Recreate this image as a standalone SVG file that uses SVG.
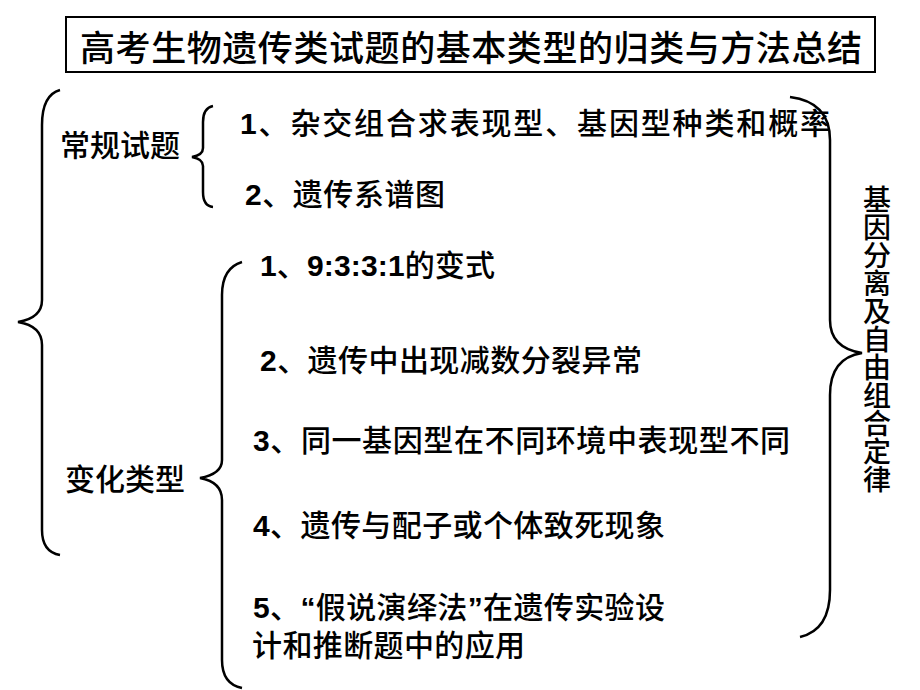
<svg xmlns="http://www.w3.org/2000/svg" width="920" height="690" viewBox="0 0 920 690">
<style>
.t{font-family:"Liberation Sans","Noto Sans CJK SC",sans-serif;fill:#000;font-weight:500}
.b{font-size:30px}
.n{font-weight:bold}
.br{fill:none;stroke:#000;stroke-width:2.5}
</style>
<rect width="920" height="690" fill="#fff"/>
<g id="title">
<rect x="66" y="17" width="809" height="55" fill="#fff" stroke="#000" stroke-width="2"/>
<text class="t" x="80" y="61" font-size="35" textLength="782" lengthAdjust="spacing">高考生物遗传类试题的基本类型的归类与方法总结</text>
</g>
<g id="connectors">
<path class="br" d="M60,90 Q42,95 42,125 L42,300 Q42,318 18,322 Q42,326 42,345 L42,530 Q42,552 60,555"/>
<path class="br" d="M213,106 Q203,108 203,122 L203,148 Q203,155 192,157 Q203,159 203,166 L203,192 Q203,206 213,207"/>
<path class="br" d="M242,262 Q222,268 222,295 L222,460 Q222,474 200,478 Q222,482 222,500 L222,660 Q222,684 242,688"/>
<path class="br" d="M790,97 Q830,102 830,140 L830,320 Q830,348 862,353 Q830,358 830,395 L830,590 Q830,630 800,637"/>
</g>
<g id="regular">
<text class="t b" x="60" y="156" textLength="120" lengthAdjust="spacing">常规试题</text>
</g>
<g id="change">
<text class="t b" x="65" y="490" textLength="120" lengthAdjust="spacing">变化类型</text>
</g>
<g id="r1"><text class="t b" x="240" y="134" textLength="590" lengthAdjust="spacing"><tspan class="n">1</tspan>、杂交组合求表现型、基因型种类和概率</text></g>
<g id="r2"><text class="t b" x="245" y="205" textLength="200" lengthAdjust="spacing"><tspan class="n">2</tspan>、遗传系谱图</text></g>
<g id="v1"><text class="t b" x="260" y="276" textLength="235" lengthAdjust="spacing"><tspan class="n">1</tspan>、<tspan class="n">9:3:3:1</tspan>的变式</text></g>
<g id="v2"><text class="t b" x="260" y="371" textLength="382" lengthAdjust="spacing"><tspan class="n">2</tspan>、遗传中出现减数分裂异常</text></g>
<g id="v3"><text class="t b" x="253" y="451" textLength="537" lengthAdjust="spacing"><tspan class="n">3</tspan>、同一基因型在不同环境中表现型不同</text></g>
<g id="v4"><text class="t b" x="253" y="536" textLength="412" lengthAdjust="spacing"><tspan class="n">4</tspan>、遗传与配子或个体致死现象</text></g>
<g id="v5"><text class="t b" x="253" y="618" textLength="412" lengthAdjust="spacing"><tspan class="n">5</tspan>、<tspan class="n">“</tspan>假说演绎法<tspan class="n">”</tspan>在遗传实验设</text>
<text class="t b" x="252" y="656" textLength="273" lengthAdjust="spacing">计和推断题中的应用</text></g>
<g id="law">
<text class="t" font-size="28" text-anchor="middle">
<tspan x="877" y="210">基</tspan><tspan x="877" y="238">因</tspan><tspan x="877" y="266">分</tspan><tspan x="877" y="294">离</tspan><tspan x="877" y="322">及</tspan><tspan x="877" y="350">自</tspan><tspan x="877" y="378">由</tspan><tspan x="877" y="406">组</tspan><tspan x="877" y="434">合</tspan><tspan x="877" y="462">定</tspan><tspan x="877" y="490">律</tspan>
</text>
</g>
</svg>
